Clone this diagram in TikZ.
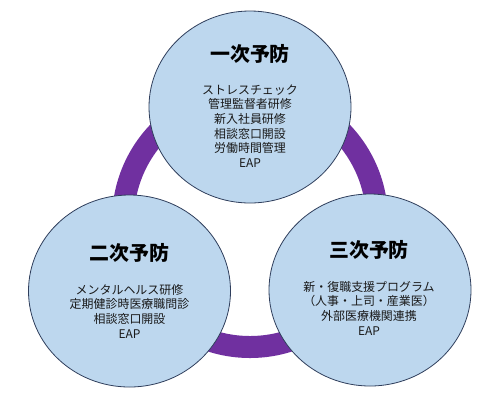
\documentclass[tikz,border=0pt]{standalone}
\usepackage{fontspec}
\newfontfamily\jp{Noto Sans CJK JP}
\usetikzlibrary{shapes.geometric}
\definecolor{ringpurple}{HTML}{7030A0}
\definecolor{bubblefill}{HTML}{BDD7EE}
\definecolor{bubbleline}{HTML}{2F3E5C}
\tikzset{
  bubble/.style={ellipse, draw=bubbleline, line width=0.8bp, fill=bubblefill,
    minimum width=202bp, minimum height=192bp, inner sep=0pt},
  title/.style={font=\jp\bfseries\fontsize{20}{24}\selectfont, text=black, inner sep=0pt},
  body/.style={font=\jp\fontsize{12}{14.7}\selectfont, text=black!90, align=center, inner sep=0pt}
}
\begin{document}
\begin{tikzpicture}[x=1bp,y=-1bp]
\useasboundingbox (0,0) rectangle (500,405);
\coordinate (ringc) at (250,220);
\draw[ringpurple, line width=22bp] (ringc) circle[radius=127bp];
\node[bubble] (top) at (250,107) {};
\node[bubble] (left) at (129.5,291) {};
\node[bubble] (right) at (370,290) {};
\node[title] (toptitle) at (250,53.5) {一次予防};
\node[body] (topbody) at (250,126) {ストレスチェック\\管理監督者研修\\新入社員研修\\相談窓口開設\\労働時間管理\\EAP};
\node[title] (lefttitle) at (129.5,253) {二次予防};
\node[body] (leftbody) at (129.5,311) {メンタルヘルス研修\\定期健診時医療職問診\\相談窓口開設\\EAP};
\node[title] (righttitle) at (369,250) {三次予防};
\node[body] (rightbody) at (369,308) {新・復職支援プログラム\\（人事・上司・産業医）\\外部医療機関連携\\EAP};
\end{tikzpicture}
\end{document}
